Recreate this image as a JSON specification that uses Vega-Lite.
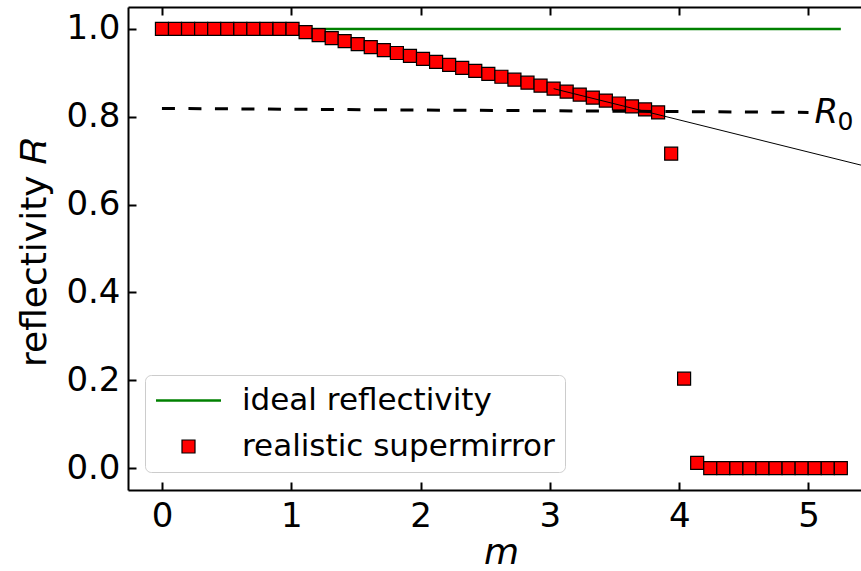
{
  "$schema": "https://vega.github.io/schema/vega-lite/v6.json",
  "width": 733,
  "height": 483,
  "autosize": {"type": "none"},
  "padding": {"left": 128, "top": 7, "right": 0, "bottom": 81},
  "background": "white",
  "config": {
    "view": {"stroke": null},
    "font": "DejaVu Sans",
    "axis": {
      "grid": false,
      "domainColor": "black",
      "domainWidth": 2,
      "tickColor": "black",
      "tickWidth": 2,
      "tickSize": -8,
      "labelFont": "DejaVu Sans",
      "labelFontSize": 34,
      "labelColor": "black",
      "titleFont": "DejaVu Sans",
      "titleFontSize": 36,
      "titleColor": "black",
      "titleFontWeight": "normal"
    },
    "legend": {
      "title": null, "orient": "none", "legendX": 17, "legendY": 368,
      "labelFont": "DejaVu Sans", "labelFontSize": 31, "labelColor": "black", "labelLimit": 0,
      "symbolSize": 676, "symbolOffset": 18, "labelOffset": 38, "rowPadding": 14, "padding": 10,
      "strokeColor": "#cccccc", "fillColor": "rgba(255,255,255,0.8)", "cornerRadius": 6,
      "symbolFillColor": "#ff0000", "symbolOpacity": 1
    }
  },
  "datasets": {
    "ideal": [{"m": 0, "R": 1}, {"m": 5.25, "R": 1}],
    "mirror": [
      {"m": 0.000, "R": 1, "series": "realistic supermirror"},
      {"m": 0.101, "R": 1, "series": "realistic supermirror"},
      {"m": 0.202, "R": 1, "series": "realistic supermirror"},
      {"m": 0.303, "R": 1, "series": "realistic supermirror"},
      {"m": 0.404, "R": 1, "series": "realistic supermirror"},
      {"m": 0.505, "R": 1, "series": "realistic supermirror"},
      {"m": 0.606, "R": 1, "series": "realistic supermirror"},
      {"m": 0.707, "R": 1, "series": "realistic supermirror"},
      {"m": 0.808, "R": 1, "series": "realistic supermirror"},
      {"m": 0.909, "R": 1, "series": "realistic supermirror"},
      {"m": 1.010, "R": 1, "series": "realistic supermirror"},
      {"m": 1.111, "R": 0.9926, "series": "realistic supermirror"},
      {"m": 1.212, "R": 0.9858, "series": "realistic supermirror"},
      {"m": 1.313, "R": 0.9791, "series": "realistic supermirror"},
      {"m": 1.413, "R": 0.9723, "series": "realistic supermirror"},
      {"m": 1.514, "R": 0.9655, "series": "realistic supermirror"},
      {"m": 1.615, "R": 0.9588, "series": "realistic supermirror"},
      {"m": 1.716, "R": 0.9520, "series": "realistic supermirror"},
      {"m": 1.817, "R": 0.9452, "series": "realistic supermirror"},
      {"m": 1.918, "R": 0.9385, "series": "realistic supermirror"},
      {"m": 2.019, "R": 0.9317, "series": "realistic supermirror"},
      {"m": 2.120, "R": 0.9249, "series": "realistic supermirror"},
      {"m": 2.221, "R": 0.9182, "series": "realistic supermirror"},
      {"m": 2.322, "R": 0.9114, "series": "realistic supermirror"},
      {"m": 2.423, "R": 0.9047, "series": "realistic supermirror"},
      {"m": 2.524, "R": 0.8979, "series": "realistic supermirror"},
      {"m": 2.625, "R": 0.8911, "series": "realistic supermirror"},
      {"m": 2.726, "R": 0.8844, "series": "realistic supermirror"},
      {"m": 2.827, "R": 0.8776, "series": "realistic supermirror"},
      {"m": 2.928, "R": 0.8708, "series": "realistic supermirror"},
      {"m": 3.029, "R": 0.8641, "series": "realistic supermirror"},
      {"m": 3.130, "R": 0.8573, "series": "realistic supermirror"},
      {"m": 3.231, "R": 0.8505, "series": "realistic supermirror"},
      {"m": 3.332, "R": 0.8438, "series": "realistic supermirror"},
      {"m": 3.433, "R": 0.8370, "series": "realistic supermirror"},
      {"m": 3.534, "R": 0.8302, "series": "realistic supermirror"},
      {"m": 3.635, "R": 0.8235, "series": "realistic supermirror"},
      {"m": 3.736, "R": 0.8167, "series": "realistic supermirror"},
      {"m": 3.837, "R": 0.8100, "series": "realistic supermirror"},
      {"m": 3.938, "R": 0.716, "series": "realistic supermirror"},
      {"m": 4.038, "R": 0.2035, "series": "realistic supermirror"},
      {"m": 4.139, "R": 0.012, "series": "realistic supermirror"},
      {"m": 4.240, "R": 0, "series": "realistic supermirror"},
      {"m": 4.341, "R": 0, "series": "realistic supermirror"},
      {"m": 4.442, "R": 0, "series": "realistic supermirror"},
      {"m": 4.543, "R": 0, "series": "realistic supermirror"},
      {"m": 4.644, "R": 0, "series": "realistic supermirror"},
      {"m": 4.745, "R": 0, "series": "realistic supermirror"},
      {"m": 4.846, "R": 0, "series": "realistic supermirror"},
      {"m": 4.947, "R": 0, "series": "realistic supermirror"},
      {"m": 5.048, "R": 0, "series": "realistic supermirror"},
      {"m": 5.149, "R": 0, "series": "realistic supermirror"},
      {"m": 5.250, "R": 0, "series": "realistic supermirror"}
    ],
    "r0line": [{"m": 0, "R": 0.819}, {"m": 5.0, "R": 0.81}],
    "tangent": [{"m": 3.029, "R": 0.864}, {"m": 5.5, "R": 0.683}],
    "r0label": [{"m": 5.0, "R": 0.81, "main": "R", "sub": "0"}]
  },
  "layer": [
    {
      "data": {"name": "ideal"},
      "mark": {"type": "line", "color": "#008000", "strokeWidth": 2.6},
      "encoding": {
        "x": {"field": "m", "type": "quantitative",
          "scale": {"domain": [-0.2625, 5.406], "nice": false, "zero": false},
          "axis": {"orient": "top", "values": [0, 1, 2, 3, 4, 5], "labels": false, "title": null}},
        "y": {"field": "R", "type": "quantitative",
          "scale": {"domain": [-0.05, 1.05], "nice": false, "zero": false},
          "axis": {"orient": "left", "values": [0, 0.2, 0.4, 0.6, 0.8, 1.0], "format": ".1f", "labelPadding": 16,
            "title": "reflectivity 𝑅", "titleX": -83, "titleY": 245, "titleBaseline": "alphabetic", "titleAlign": "center", "titleAngle": 270}}
      }
    },
    {
      "data": {"name": "mirror"},
      "mark": {"type": "point", "filled": true, "fill": "#ff0000", "opacity": 1, "size": 676},
      "encoding": {
        "x": {"field": "m", "type": "quantitative",
          "scale": {"domain": [-0.2625, 5.406], "nice": false, "zero": false},
          "axis": {"orient": "bottom", "values": [0, 1, 2, 3, 4, 5], "labelPadding": 17,
            "title": "m", "titleFontStyle": "italic", "titleX": 373, "titleY": 73, "titleBaseline": "alphabetic"}},
        "y": {"field": "R", "type": "quantitative",
          "scale": {"domain": [-0.05, 1.05], "nice": false, "zero": false}},
        "shape": {"field": "series", "type": "nominal", "title": null,
          "scale": {"domain": ["ideal reflectivity", "realistic supermirror"], "range": ["M-2.5,0H2.5", "M-0.5,-0.5H0.5V0.5H-0.5Z"]}},
        "stroke": {"field": "series", "type": "nominal", "title": null,
          "scale": {"domain": ["ideal reflectivity", "realistic supermirror"], "range": ["#008000", "black"]}},
        "strokeWidth": {"field": "series", "type": "nominal", "title": null,
          "scale": {"domain": ["ideal reflectivity", "realistic supermirror"], "range": [2.6, 1.2]}}
      }
    },
    {
      "data": {"name": "r0line"},
      "mark": {"type": "line", "color": "black", "strokeWidth": 3, "strokeDash": [13, 13.5]},
      "encoding": {
        "x": {"field": "m", "type": "quantitative", "scale": {"domain": [-0.2625, 5.406], "nice": false, "zero": false}, "axis": null},
        "y": {"field": "R", "type": "quantitative", "scale": {"domain": [-0.05, 1.05], "nice": false, "zero": false}}
      }
    },
    {
      "data": {"name": "tangent"},
      "mark": {"type": "line", "color": "black", "strokeWidth": 1, "clip": true},
      "encoding": {
        "x": {"field": "m", "type": "quantitative", "scale": {"domain": [-0.2625, 5.406], "nice": false, "zero": false}, "axis": null},
        "y": {"field": "R", "type": "quantitative", "scale": {"domain": [-0.05, 1.05], "nice": false, "zero": false}}
      }
    },
    {
      "data": {"name": "r0label"},
      "mark": {"type": "text", "font": "DejaVu Sans", "fontSize": 34, "fontStyle": "italic", "align": "left", "baseline": "alphabetic", "dx": 6, "dy": 11, "color": "black"},
      "encoding": {
        "x": {"field": "m", "type": "quantitative", "scale": {"domain": [-0.2625, 5.406], "nice": false, "zero": false}, "axis": null},
        "y": {"field": "R", "type": "quantitative", "scale": {"domain": [-0.05, 1.05], "nice": false, "zero": false}},
        "text": {"field": "main"}
      }
    },
    {
      "data": {"name": "r0label"},
      "mark": {"type": "text", "font": "DejaVu Sans", "fontSize": 25, "align": "left", "baseline": "alphabetic", "dx": 29, "dy": 18, "color": "black"},
      "encoding": {
        "x": {"field": "m", "type": "quantitative", "scale": {"domain": [-0.2625, 5.406], "nice": false, "zero": false}, "axis": null},
        "y": {"field": "R", "type": "quantitative", "scale": {"domain": [-0.05, 1.05], "nice": false, "zero": false}},
        "text": {"field": "sub"}
      }
    }
  ],
  "resolve": {"axis": {"x": "independent"}}
}
